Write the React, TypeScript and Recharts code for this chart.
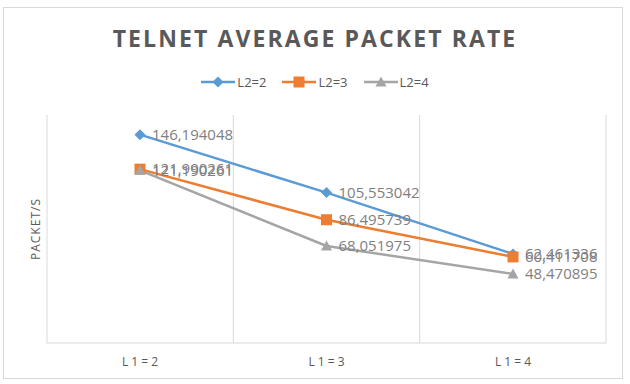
import { LineChart, Line, XAxis, YAxis, CartesianGrid, LabelList } from 'recharts'

const categories = ['L 1 = 2', 'L 1 = 3', 'L 1 = 4']
const l2eq2 = [146.194048, 105.553042, 62.461336]
const l2eq3 = [121.990261, 86.495739, 60.411708]
const l2eq4 = [121.190261, 68.051975, 48.470895]

const series = [
  { key: 'a', name: 'L2=2', color: '#5b9bd5', shape: 'diamond' },
  { key: 'b', name: 'L2=3', color: '#ed7d31', shape: 'square' },
  { key: 'c', name: 'L2=4', color: '#a5a5a5', shape: 'triangle' },
]

const data = categories.map((name, i) => ({ name, a: l2eq2[i], b: l2eq3[i], c: l2eq4[i] }))

const fmt = (v: any) => Number(v).toFixed(6).replace('.', ',')

function Marker({ cx, cy, shape, color }: any) {
  if (cx == null || cy == null) return null
  if (shape === 'diamond') {
    return <path d={`M${cx},${cy - 5.5}L${cx + 5.5},${cy}L${cx},${cy + 5.5}L${cx - 5.5},${cy}Z`} fill={color} />
  }
  if (shape === 'square') {
    return <rect x={cx - 5.5} y={cy - 5.5} width={11} height={11} fill={color} />
  }
  return <path d={`M${cx},${cy - 5.5}L${cx + 5.5},${cy + 4.5}L${cx - 5.5},${cy + 4.5}Z`} fill={color} />
}

function LegendIcon({ shape, color }: { shape: string; color: string }) {
  return (
    <svg width={34} height={12} style={{ marginRight: 2 }}>
      <line x1={0} y1={6} x2={34} y2={6} stroke={color} strokeWidth={2.5} />
      <Marker cx={17} cy={6} shape={shape} color={color} />
    </svg>
  )
}

export default function App() {
  return (
    <div style={{ position: 'absolute', left: 0, top: 0, width: 630, height: 384, background: '#fff' }}>
      <div style={{
        position: 'absolute', left: 3, top: 7, width: 620, height: 372,
        border: '1px solid #d9d9d9', boxSizing: 'border-box',
      }} />
      <div style={{
        position: 'absolute', left: 0, top: 22, width: 630, textAlign: 'center',
        fontFamily: '"Open Sans", sans-serif', fontWeight: 700, fontSize: 23,
        letterSpacing: 2.1, color: '#595959',
      }}>
        TELNET AVERAGE PACKET RATE
      </div>
      <div style={{
        position: 'absolute', left: 0, top: 73, width: 630, display: 'flex', justifyContent: 'center',
        fontFamily: '"Open Sans", sans-serif', fontSize: 13, color: '#595959',
      }}>
        {series.map(s => (
          <div key={s.key} style={{ display: 'flex', alignItems: 'center', margin: '0 8px' }}>
            <LegendIcon shape={s.shape} color={s.color} />
            <span>{s.name}</span>
          </div>
        ))}
      </div>
      <div style={{ position: 'absolute', left: 0, top: 0 }}>
        <LineChart width={630} height={384} data={data}
          margin={{ top: 115, right: 24, bottom: 11, left: 0 }}>
          <CartesianGrid horizontal={false} stroke="#d9d9d9"
            verticalCoordinatesGenerator={({ offset }: any) =>
              [0, 1, 2, 3].map(i => offset.left + (offset.width * i) / 3)} />
          <XAxis dataKey="name" height={30} tickLine={false} stroke="#d9d9d9"
            padding={{ left: 93, right: 93 }}
            tick={{ fill: '#595959', fontSize: 12, fontFamily: '"Open Sans", sans-serif' }} tickMargin={8} />
          <YAxis width={47} domain={[0, 160]} ticks={[0, 40, 80, 120, 160]} tick={false}
            axisLine={false} tickLine={false}
            label={(p: any) => {
              const vb = p.viewBox
              return (
                <text x={vb.x + vb.width - 12} y={vb.y + vb.height / 2}
                  transform={`rotate(-90 ${vb.x + vb.width - 12} ${vb.y + vb.height / 2})`}
                  textAnchor="middle" dominantBaseline="central" fill="#595959"
                  fontSize={12} fontFamily='"Open Sans", sans-serif' letterSpacing={1}>
                  PACKET/S
                </text>
              )
            }} />
          {series.map(s => (
            <Line key={s.key} dataKey={s.key} name={s.name} stroke={s.color} strokeWidth={2.5}
              isAnimationActive={false}
              dot={(p: any) => <Marker key={`${s.key}-${p.index}`} cx={p.cx} cy={p.cy} shape={s.shape} color={s.color} />}
              activeDot={false}>
              <LabelList dataKey={s.key} position="right" offset={12} formatter={fmt}
                fill="#808080" fontSize={15} fontFamily='"Open Sans", sans-serif' />
            </Line>
          ))}
        </LineChart>
      </div>
    </div>
  )
}
